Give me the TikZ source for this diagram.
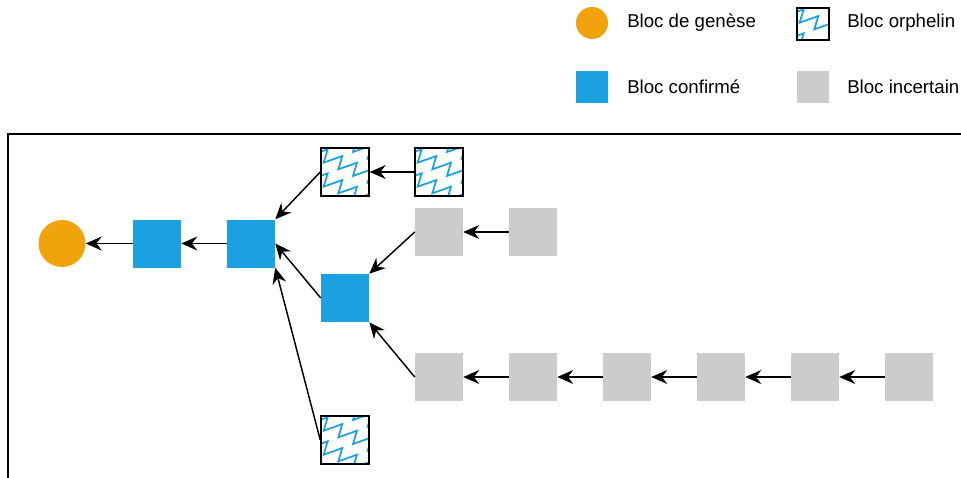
\documentclass[tikz,border=0pt]{standalone}
\usepackage{fontspec}
\setmainfont{Liberation Sans}
\usepackage{xcolor}
\usetikzlibrary{arrows.meta}

\definecolor{genese}{HTML}{F0A30A}
\definecolor{confirme}{HTML}{1BA1E2}
\definecolor{incertain}{HTML}{CCCCCC}

\tikzset{
  bloc/.style={rectangle, minimum size=36pt, inner sep=0pt},
  confirmed/.style={bloc, fill=confirme},
  uncertain/.style={bloc, fill=incertain},
  origin/.style={circle, fill=genese, minimum size=35.25pt, inner sep=0pt},
  orphan/.style={bloc, draw=black, line width=1.1pt, path picture={
    \foreach \c in {-1,...,3}
      \draw[confirme, line width=1.3pt]
        ([shift={(-9pt,12pt-\c*18pt)}]path picture bounding box.north west)
        \foreach \i in {1,...,5} { -- ++(14pt,5pt) -- ++(-3pt,-10pt) };
  }},
  link/.style={-{Stealth[length=12pt,width=10.5pt,inset=4pt]}, line width=1.1pt},
  legend/.style={anchor=west, inner sep=0pt, font=\fontsize{14}{16}\selectfont}
}

\begin{document}
\begin{tikzpicture}[x=0.75pt, y=-0.75pt]
\useasboundingbox (0,0) rectangle (961,478);

% legend
\node[origin, minimum size=24pt] (lgen) at (592,23) {};
\node[legend] at (627,23) {Bloc de genèse};
\node[orphan, minimum size=24pt] (lorph) at (813,24) {};
\node[legend] at (847,23) {Bloc orphelin};
\node[confirmed, minimum size=24pt] (lconf) at (592,87) {};
\node[legend] at (627,87) {Bloc confirmé};
\node[uncertain, minimum size=24pt] (lunc) at (813,87) {};
\node[legend] at (847,87) {Bloc incertain};

% frame
\draw[line width=1.1pt] (8,478) -- (8,134) -- (961,134);

% main chain
\node[origin] (gen) at (62,243.5) {};
\node[confirmed] (c1) at (157,243.5) {};
\node[confirmed] (c2) at (251,243.5) {};
\node[confirmed] (c3) at (345,298) {};

% orphans
\node[orphan] (o1) at (345,172) {};
\node[orphan] (o2) at (439,172) {};
\node[orphan] (o3) at (345,440) {};

% uncertain branches
\node[uncertain] (u1) at (439,232) {};
\node[uncertain] (u2) at (533,232) {};
\foreach \k in {1,...,6}
  \node[uncertain] (b\k) at (345+94*\k,377) {};

\draw[link] (c1) -- (gen);
\draw[link] (c2) -- (c1);
\draw[link] (o1.west) -- (c2.north east);
\draw[link] (o2) -- (o1);
\draw[link] (c3.west) -- (c2.east);
\draw[link] (o3.west) -- (c2.south east);
\draw[link] (u1.west) -- (c3.north east);
\draw[link] (u2) -- (u1);
\draw[link] (b1.west) -- (c3.south east);
\foreach \k [count=\j] in {2,...,6}
  \draw[link] (b\k) -- (b\j);

\end{tikzpicture}
\end{document}
